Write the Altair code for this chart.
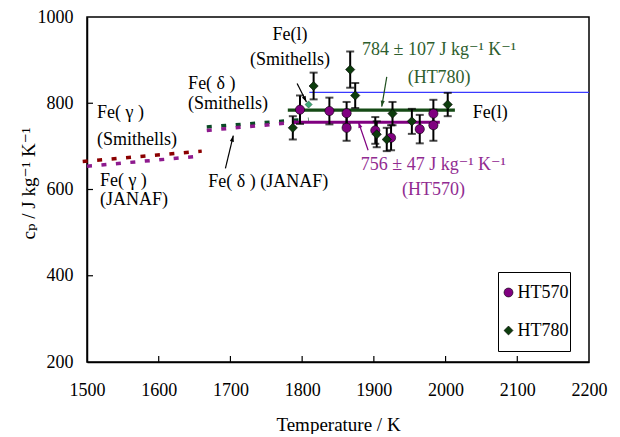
import math
import altair as alt
import pandas as pd

FONT = "Liberation Serif, Times New Roman, Tinos, DejaVu Serif, serif"
W, H = 502, 345
XMIN, XMAX, YMIN, YMAX = 1500, 2200, 200, 1000

# ---- measured data ----
series_names = ["HT570", "HT780"]
t570 = [1797, 1838, 1862, 1862, 1902, 1924, 1964, 1983, 1983]
cp570 = [785, 782, 777, 743, 737, 720, 740, 776, 749]
err570 = [33, 31, 26, 30, 31, 29, 33, 32, 36]
t780 = [1787, 1816, 1867, 1874, 1904, 1918, 1926, 1953, 2003]
cp780 = [743, 840, 878, 818, 728, 716, 776, 758, 797]
err780 = [27, 31, 42, 29, 30, 27, 27, 29, 27]

# reference / literature lines
gam_smith_t, gam_smith_cp = [1494, 1660], [665, 689]
gam_janaf_t, gam_janaf_cp = [1500, 1656], [654, 677]
del_smith_t, del_smith_cp = [1667, 1809], [745, 763]
del_janaf_t, del_janaf_cp = [1667, 1792], [737, 756]
liq_smith_t, liq_smith_cp = [1810, 2200], [825, 825]
liq_pt_t, liq_pt_cp = [1809], [797]
mean780_t, mean780_cp = [1780, 2013], [784, 784]
mean570_t, mean570_cp = [1788, 1992], [756, 756]

# tick values
x_ticks = [1500, 1600, 1700, 1800, 1900, 2000, 2100, 2200]
y_ticks = [200, 400, 600, 800, 1000]

# annotations
txt_k = ["Fe(l)", "(Smithells)"]
txt_k_t = [1783, 1783]
txt_k_cp = [958, 900]
txt_g = ["784 ± 107 J kg⁻¹ K⁻¹", "(HT780)"]
txt_g_t = [1991, 1991]
txt_g_cp = [923, 858]
txt_p = ["756 ± 47 J kg⁻¹ K⁻¹", "(HT570)"]
txt_p_t = [1983, 1983]
txt_p_cp = [656, 598]

txt_l = ["Fe(l)", "Fe( δ )", "(Smithells)", "Fe( γ )", "(Smithells)",
         "Fe( γ )", "(JANAF)", "Fe( δ ) (JANAF)"]
txt_l_t = [2038, 1641, 1641, 1514, 1514, 1518, 1518, 1669]
txt_l_cp = [777, 845, 799, 777, 714, 620, 575, 617]

arr_t1 = [1793, 1918, 1892, 1693]
arr_cp1 = [846, 861, 691, 649]
arr_t2 = [1806, 1911, 1878.5, 1704]
arr_cp2 = [803, 792, 756.5, 725]
arr_col = ["black", "#1f4f1f", "#800080", "black"]

GREEN_TXT = "#2e5e2e"
PURPLE_TXT = "#912b91"

xs = alt.Scale(domain=[XMIN, XMAX], nice=False, zero=False)
ys = alt.Scale(domain=[YMIN, YMAX], nice=False, zero=False)
X = lambda f: alt.X(f, scale=xs)
Y = lambda f: alt.Y(f, scale=ys)


def seg(t, cp, color, width, dash=None):
    df = pd.DataFrame({"t": t, "cp": cp})
    kw = dict(color=color, strokeWidth=width)
    if dash:
        kw["strokeDash"] = dash
    return alt.Chart(df).mark_line(**kw).encode(x=X("t:Q"), y=Y("cp:Q"))


dash = [5, 9.5]
lines = [
    seg(gam_smith_t, gam_smith_cp, "#8b0000", 3.5, dash),
    seg(gam_janaf_t, gam_janaf_cp, "#8e1a8e", 3.5, dash),
    seg(del_smith_t, del_smith_cp, "#0a4a25", 3.5, dash),
    seg(del_janaf_t, del_janaf_cp, "#8e1a8e", 3.5, dash),
    seg(liq_smith_t, liq_smith_cp, "#3a3aff", 1.2),
    seg(mean780_t, mean780_cp, "#154a15", 3.2),
    seg(mean570_t, mean570_cp, "#800080", 3.0),
]

pts = pd.DataFrame({
    "t": t570 + t780,
    "cp": cp570 + cp780,
    "err": err570 + err780,
    "series": [series_names[0]] * len(t570) + [series_names[1]] * len(t780),
})
pts["lo"] = pts["cp"] - pts["err"]
pts["hi"] = pts["cp"] + pts["err"]

base = alt.Chart(pts)
ebar = base.mark_rule(color="black", strokeWidth=2).encode(x=X("t:Q"), y=Y("lo:Q"), y2="hi:Q")
cap_lo = base.mark_tick(orient="horizontal", size=8, thickness=2, color="black").encode(
    x=X("t:Q"), y=Y("lo:Q"))
cap_hi = base.mark_tick(orient="horizontal", size=8, thickness=2, color="black").encode(
    x=X("t:Q"), y=Y("hi:Q"))

leg = alt.Legend(title=None, orient="none", legendX=411, legendY=255,
                 strokeColor="black", fillColor="white", padding=1.5,
                 rowPadding=0, clipHeight=38, symbolOffset=0,
                 labelFont=FONT, labelFontSize=18,
                 labelColor="black", labelOffset=0, symbolSize=80,
                 symbolStrokeColor="black", symbolStrokeWidth=0.6,
                 cornerRadius=0)
points = base.mark_point(filled=True, stroke="black", strokeWidth=0.6, opacity=1, size=85).encode(
    x=X("t:Q"), y=Y("cp:Q"),
    color=alt.Color("series:N", scale=alt.Scale(domain=series_names, range=["#800080", "#0d3d0d"]),
                    legend=leg),
    shape=alt.Shape("series:N", scale=alt.Scale(domain=series_names, range=["circle", "diamond"]),
                    legend=leg),
)

liq_pt = alt.Chart(pd.DataFrame({"t": liq_pt_t, "cp": liq_pt_cp})).mark_point(
    shape="diamond", filled=True, color="#3caa78", stroke="#1a5a3a", strokeWidth=0.6,
    size=50, opacity=1).encode(x=X("t:Q"), y=Y("cp:Q"))


def texts(txt, t, cp, color, align):
    df = pd.DataFrame({"txt": txt, "t": t, "cp": cp})
    return alt.Chart(df).mark_text(font=FONT, fontSize=18, align=align, baseline="middle",
                                   color=color).encode(x=X("t:Q"), y=Y("cp:Q"), text="txt:N")


text_layers = [
    texts(txt_k, txt_k_t, txt_k_cp, "black", "center"),
    texts(txt_g, txt_g_t, txt_g_cp, GREEN_TXT, "center"),
    texts(txt_p, txt_p_t, txt_p_cp, PURPLE_TXT, "center"),
    texts(txt_l, txt_l_t, txt_l_cp, "black", "left"),
]

# arrows
kx = W / (XMAX - XMIN)
ky = H / (YMAX - YMIN)
arrow_layers = []
for a, b, c, d, col in zip(arr_t1, arr_cp1, arr_t2, arr_cp2, arr_col):
    dx = (c - a) * kx
    dy = -(d - b) * ky
    ang = math.degrees(math.atan2(dx, -dy)) % 360
    df = pd.DataFrame({"t1": [a], "cp1": [b], "t2": [c], "cp2": [d]})
    arrow_layers.append(alt.Chart(df).mark_rule(strokeWidth=1.2, color=col).encode(
        x=X("t1:Q"), y=Y("cp1:Q"), x2="t2:Q", y2="cp2:Q"))
    arrow_layers.append(alt.Chart(df).mark_point(
        shape="M0,0L0.75,2.2L-0.75,2.2Z", filled=True, size=30, opacity=1, color=col,
        angle=ang).encode(x=X("t2:Q"), y=Y("cp2:Q")))

# inward ticks
xt = pd.DataFrame({"t": x_ticks[1:-1]})
xtick = alt.Chart(xt).mark_rule(color="black", strokeWidth=1.2).encode(
    x=X("t:Q"), y=alt.value(H), y2=alt.value(H - 6))
yt = pd.DataFrame({"cp": y_ticks[1:-1]})
ytick = alt.Chart(yt).mark_rule(color="black", strokeWidth=1.2).encode(
    y=Y("cp:Q"), x=alt.value(0), x2=alt.value(6))

axis_x = alt.Axis(values=x_ticks, format="d", title="Temperature / K", ticks=False, grid=False,
                  labelFont=FONT, labelFontSize=18, labelColor="black", labelPadding=19,
                  titleFont=FONT, titleFontSize=19, titleFontWeight="normal", titleColor="black",
                  titleY=62, titleBaseline="middle", domainColor="black", domainWidth=1.5,
                  labelFlush=False)
axis_y = alt.Axis(values=y_ticks, format="d", title="cₚ / J kg⁻¹ K⁻¹", ticks=False, grid=False,
                  labelFont=FONT, labelFontSize=18, labelColor="black", labelPadding=14,
                  titleFont=FONT, titleFontSize=19, titleFontWeight="normal", titleColor="black",
                  titleX=-59, titleY=166, titleBaseline="middle", titleAngle=270,
                  domainColor="black", domainWidth=1.5, labelFlush=False)

frame = alt.Chart(pd.DataFrame({"t": [XMIN], "cp": [YMIN]})).mark_point(opacity=0).encode(
    x=alt.X("t:Q", scale=xs, axis=axis_x), y=alt.Y("cp:Q", scale=ys, axis=axis_y))

chart = alt.layer(
    frame, *lines, xtick, ytick, ebar, cap_lo, cap_hi, liq_pt, points,
    *text_layers, *arrow_layers,
).properties(
    width=W, height=H,
    autosize=alt.AutoSizeParams(type="none"),
    padding={"left": 79, "top": 9, "right": 23, "bottom": 72},
    background="white",
).configure_view(stroke="black", strokeWidth=1.5)

chart.save("out.html", embed_options={"renderer": "svg", "actions": False})
